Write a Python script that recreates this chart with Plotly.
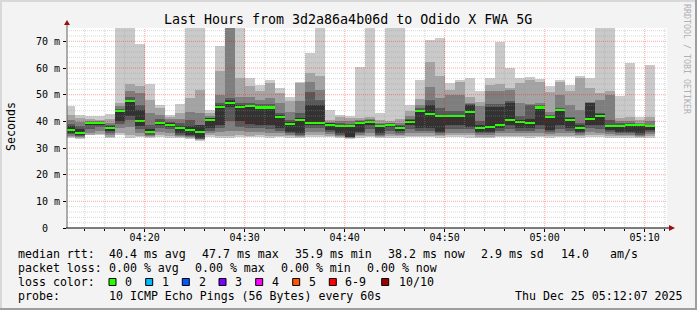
import plotly.graph_objects as go

DAY = "2025-12-25 "
minutes = ["04:12", "04:13", "04:14", "04:15", "04:16", "04:17", "04:18", "04:19", "04:20", "04:21",
           "04:22", "04:23", "04:24", "04:25", "04:26", "04:27", "04:28", "04:29", "04:30", "04:31",
           "04:32", "04:33", "04:34", "04:35", "04:36", "04:37", "04:38", "04:39", "04:40", "04:41",
           "04:42", "04:43", "04:44", "04:45", "04:46", "04:47", "04:48", "04:49", "04:50", "04:51",
           "04:52", "04:53", "04:54", "04:55", "04:56", "04:57", "04:58", "04:59", "05:00", "05:01",
           "05:02", "05:03", "05:04", "05:05", "05:06", "05:07", "05:08", "05:09", "05:10"]

# sorted ping rtts (ms) per minute, p10 = slowest, p1 = fastest (values > 75 are clipped)
p10 = [45.9, 42.4, 42.0, 42.0, 42.7, 80, 80, 68.9, 53.9, 46.1, 42.4, 46.5, 80, 80, 44.2,
       68.1, 80, 80, 56.2, 53.6, 55.5, 52.4, 49.3, 54.9, 65.5, 80, 44.2, 42.4, 42.1, 60.2,
       80, 43.0, 80, 80, 46.1, 55.5, 70.6, 71.4, 54.3, 55.5, 56.2, 51.4, 56.4, 69.7, 59.9,
       56.2, 56.8, 55.9, 53.3, 55.5, 53.6, 57.0, 56.2, 80, 80, 49.6, 62.0, 41.7, 61.2]
p9 = [42.4, 41.4, 41.0, 40.5, 40.7, 46.8, 53.9, 53.3, 48.0, 44.9, 41.7, 43.2, 48.9, 51.8, 43.2,
      58.9, 80, 56.4, 53.3, 51.4, 54.3, 50.8, 47.6, 54.3, 58.0, 57.1, 40.5, 41.7, 41.1, 41.4,
      41.7, 40.5, 40.1, 40.9, 43.9, 48.4, 62.4, 57.1, 51.8, 54.9, 49.3, 47.4, 53.6, 53.9, 52.6,
      54.3, 55.5, 54.6, 51.1, 54.6, 51.4, 56.2, 52.6, 50.5, 51.4, 41.4, 41.7, 40.5, 41.7]
p8 = [40.5, 39.9, 40.2, 40.0, 39.5, 45.9, 51.4, 50.5, 43.0, 42.5, 40.8, 41.0, 43.6, 43.0, 42.0,
      50.0, 80, 49.3, 49.3, 48.0, 48.9, 46.8, 43.6, 47.6, 54.6, 51.8, 39.8, 40.0, 40.0, 40.5,
      41.0, 39.5, 39.5, 39.5, 42.0, 46.1, 53.0, 48.9, 49.9, 49.9, 46.8, 45.7, 51.4, 51.4, 51.8,
      46.8, 46.5, 46.8, 43.6, 49.9, 46.1, 44.2, 47.1, 48.0, 49.9, 40.0, 40.0, 39.5, 40.0]
p7 = [39.0, 38.2, 39.9, 39.8, 38.6, 44.8, 49.3, 46.0, 38.5, 41.0, 39.8, 39.2, 40.5, 38.8, 41.4,
      47.0, 48.6, 46.8, 47.0, 46.5, 46.5, 43.0, 40.5, 43.0, 51.1, 48.0, 39.4, 39.2, 39.0, 40.0,
      40.5, 39.0, 39.2, 38.8, 41.0, 45.0, 48.0, 45.0, 44.0, 44.0, 46.5, 40.0, 46.5, 46.5, 47.5,
      42.0, 46.1, 46.1, 42.5, 45.0, 41.5, 39.5, 46.9, 43.0, 40.5, 39.2, 39.2, 39.0, 38.8]
p6 = [38.2, 37.0, 39.6, 39.6, 38.2, 43.9, 48.0, 44.2, 37.0, 39.8, 39.2, 38.2, 38.2, 38.6, 41.1,
      46.1, 48.0, 46.1, 46.3, 45.8, 45.8, 42.2, 39.8, 41.1, 46.1, 46.1, 39.2, 38.8, 38.8, 39.8,
      40.2, 38.8, 39.0, 38.4, 40.6, 44.2, 46.1, 42.5, 42.5, 42.5, 46.1, 38.6, 45.5, 45.5, 46.8,
      40.5, 41.0, 45.8, 42.1, 44.6, 41.1, 38.6, 46.8, 42.6, 38.8, 38.8, 38.9, 38.8, 38.6]
p5 = [35.8, 34.8, 38.9, 38.9, 36.5, 40.2, 42.0, 38.2, 35.5, 38.6, 38.0, 35.5, 34.8, 33.6, 37.4,
      38.6, 45.5, 40.0, 39.0, 38.6, 38.6, 37.4, 36.1, 35.5, 38.6, 38.6, 36.7, 35.5, 34.2, 36.1,
      38.6, 35.5, 38.0, 36.4, 38.6, 37.4, 37.4, 36.1, 38.6, 38.6, 38.0, 36.1, 36.1, 37.4, 38.6,
      37.4, 37.4, 38.6, 36.7, 38.6, 37.4, 36.1, 38.6, 38.6, 36.7, 36.1, 36.1, 35.5, 36.7]
p4 = [35.2, 34.4, 37.2, 37.8, 35.8, 39.0, 40.5, 37.0, 35.0, 37.5, 37.0, 35.0, 34.4, 33.4, 36.5,
      37.5, 40.0, 38.0, 37.6, 37.5, 37.2, 36.5, 35.6, 35.0, 37.5, 37.5, 36.0, 35.0, 34.0, 35.5,
      37.0, 35.0, 36.5, 35.8, 37.0, 36.5, 36.5, 35.5, 37.0, 37.0, 37.0, 35.5, 35.5, 36.5, 37.2,
      36.5, 36.5, 37.2, 36.0, 37.0, 36.5, 35.5, 37.5, 37.2, 36.0, 35.5, 35.5, 35.0, 36.0]
p3 = [34.6, 34.0, 35.8, 36.5, 35.0, 37.5, 38.0, 35.5, 34.6, 36.0, 35.8, 34.6, 34.0, 33.2, 35.6,
      36.0, 36.5, 36.5, 36.0, 36.0, 35.8, 35.5, 35.0, 34.6, 36.0, 36.0, 35.2, 34.6, 33.8, 35.0,
      35.5, 34.6, 35.2, 35.0, 35.5, 35.5, 35.5, 35.0, 35.8, 35.8, 35.8, 34.8, 34.8, 35.5, 35.8,
      35.5, 35.5, 35.8, 35.2, 35.5, 35.5, 35.0, 36.0, 35.8, 35.2, 35.0, 35.0, 34.6, 35.2]
p2 = [34.0, 33.6, 35.0, 35.2, 34.2, 35.5, 35.0, 34.6, 34.0, 35.0, 34.5, 34.0, 33.6, 33.0, 34.8,
      34.5, 34.5, 34.8, 34.6, 34.8, 34.6, 34.6, 34.4, 34.2, 34.8, 34.8, 34.5, 34.2, 33.6, 34.4,
      34.6, 34.0, 34.5, 34.4, 34.6, 34.6, 34.6, 34.4, 34.8, 34.8, 34.8, 34.2, 34.2, 34.6, 34.6,
      34.6, 34.6, 34.6, 34.4, 34.6, 34.6, 34.4, 34.8, 34.8, 34.4, 34.4, 34.4, 34.2, 34.5]
p1 = [33.6, 33.3, 34.8, 34.8, 33.6, 34.8, 33.8, 34.2, 33.6, 34.2, 33.6, 33.6, 33.3, 32.8, 34.2,
      33.6, 33.6, 34.0, 34.0, 34.2, 33.8, 34.0, 33.8, 33.8, 34.2, 34.2, 34.0, 33.8, 33.3, 33.8,
      34.0, 33.6, 33.8, 33.8, 34.0, 34.0, 34.0, 33.8, 34.2, 34.2, 33.8, 33.6, 33.8, 34.0, 34.0,
      34.0, 33.8, 34.0, 33.8, 34.2, 34.0, 33.8, 34.2, 34.2, 33.8, 33.8, 33.8, 33.8, 33.8]
median = [36.9, 35.7, 39.4, 39.4, 37.6, 43.9, 47.6, 40.1, 36.1, 39.4, 38.7, 37.6, 36.9, 35.9, 40.5,
          45.5, 47.0, 45.5, 45.9, 45.2, 45.2, 41.7, 39.0, 40.5, 39.4, 39.4, 38.7, 38.4, 38.4, 39.4,
          39.9, 38.4, 38.7, 37.6, 39.9, 44.0, 42.7, 42.1, 42.1, 42.1, 43.6, 37.6, 38.0, 38.7, 40.6,
          39.9, 39.5, 45.2, 41.7, 44.2, 40.5, 37.6, 40.9, 42.1, 38.4, 38.4, 38.6, 38.6, 38.2]

major_ticks = ["04:20", "04:30", "04:40", "04:50", "05:00", "05:10"]
y_tick_vals = [0, 10, 20, 30, 40, 50, 60, 70]
y_tick_text = ["0\u00a0\u00a0", "10 m", "20 m", "30 m", "40 m", "50 m", "60 m", "70 m"]

loss_labels = ["0", "1", "2", "3", "4", "5", "6-9", "10/10"]
loss_colors = ["#26ff00", "#00b8ff", "#0059ff", "#7e00ff", "#ff00ff", "#ff5500", "#ff0000", "#a10000"]

title = "Last Hours from 3d2a86a4b06d to Odido X FWA 5G"
row1 = [("median rtt:", 16), ("40.4 ms avg", 107.3), ("47.7 ms max", 200), ("35.9 ms min", 293.3),
        ("38.2 ms now", 386), ("2.9 ms sd", 479.3), ("14.0", 558.7), ("am/s", 607.7)]
row2 = [("packet loss:", 16), ("0.00 % avg", 107.3), ("0.00 % max", 193.3), ("0.00 % min", 279.3),
        ("0.00 % now", 365.3)]
row4 = [("probe:", 16), ("10 ICMP Echo Pings (56 Bytes) every 60s", 107.3), ("Thu Dec 25 05:12:07 2025", 513.3)]

# ---------------- layout geometry ----------------
W, H = 697, 310
PL, PT, PW, PH = 67, 28, 600, 200
MONO = "DejaVu Sans Mono"


def px(x):
    return (x - PL) / PW


def py(y):
    return (PT + PH - y) / PH


xs = [DAY + m + ":00" for m in minutes]

fig = go.Figure()
layers = [(p1, p10, "#cacaca"), (p2, p9, "#a4a4a4"), (p3, p8, "#7e7e7e"),
          (p4, p7, "#585858"), (p5, p6, "#323232")]
for lo, hi, col in layers:
    fig.add_trace(go.Bar(x=xs, base=lo, y=[h - l for h, l in zip(hi, lo)],
                         width=60000, offset=0,
                         marker=dict(color=col, line=dict(width=0)),
                         hoverinfo="skip", showlegend=False))
fig.add_trace(go.Bar(x=xs, base=[m - 0.4 for m in median], y=[0.8] * len(median),
                     width=60000, offset=0,
                     marker=dict(color=loss_colors[0], line=dict(width=0)),
                     hoverinfo="skip", showlegend=False))

MINOR = "rgba(150,150,150,0.38)"
MAJOR = "rgba(255,0,0,0.35)"
shapes = []
# horizontal grid
for v in range(2, 76, 2):
    major = v % 10 == 0
    shapes.append(dict(type="line", xref="paper", yref="y", x0=0, x1=1, y0=v, y1=v, layer="above",
                       line=dict(color=MAJOR if major else MINOR, width=1, dash="1px,1px")))
# vertical grid
for hh in (4, 5):
    for mm in range(0, 60, 2):
        t = hh * 60 + mm
        if t < 4 * 60 + 14 or t > 5 * 60 + 12:
            continue
        major = mm % 10 == 0
        ts = f"{DAY}{hh:02d}:{mm:02d}:00"
        shapes.append(dict(type="line", xref="x", yref="paper", x0=ts, x1=ts, y0=0, y1=1, layer="above",
                           line=dict(color=MAJOR if major else MINOR, width=1, dash="1px,1px")))
# axes lines
shapes.append(dict(type="line", xref="paper", yref="paper", x0=px(67), x1=px(67), y0=py(228), y1=py(23),
                   line=dict(color="#606060", width=1), layer="above"))
shapes.append(dict(type="line", xref="paper", yref="paper", x0=px(66), x1=px(670), y0=py(228), y1=py(228),
                   line=dict(color="#000000", width=1), layer="above"))
# arrows
shapes.append(dict(type="path", xref="paper", yref="paper", layer="above",
                   path=f"M {px(64)},{py(25)} L {px(70)},{py(25)} L {px(67)},{py(20)} Z",
                   fillcolor="#9a1010", line=dict(width=0)))
shapes.append(dict(type="path", xref="paper", yref="paper", layer="above",
                   path=f"M {px(669)},{py(225)} L {px(669)},{py(231)} L {px(675)},{py(228)} Z",
                   fillcolor="#9a1010", line=dict(width=0)))
# frame shading
shapes.append(dict(type="rect", xref="paper", yref="paper", x0=px(0), x1=px(W), y0=py(0), y1=py(2),
                   fillcolor="#d8d8d8", line=dict(width=0), layer="below"))
shapes.append(dict(type="rect", xref="paper", yref="paper", x0=px(0), x1=px(2), y0=py(0), y1=py(H),
                   fillcolor="#d8d8d8", line=dict(width=0), layer="below"))
shapes.append(dict(type="rect", xref="paper", yref="paper", x0=px(0), x1=px(W), y0=py(H - 2), y1=py(H),
                   fillcolor="#9e9e9e", line=dict(width=0), layer="below"))
shapes.append(dict(type="rect", xref="paper", yref="paper", x0=px(W - 2), x1=px(W), y0=py(0), y1=py(H),
                   fillcolor="#9e9e9e", line=dict(width=0), layer="below"))

annotations = []


def text(s, x, y, size=11.6, anchor="left", color="#000000", angle=0):
    annotations.append(dict(text=s, x=px(x), y=py(y), xref="paper", yref="paper",
                            xanchor=anchor, yanchor="middle", showarrow=False, textangle=angle,
                            font=dict(family=MONO, size=size, color=color)))


text(title, 348, 19, size=13.3, anchor="center")
text("Seconds", 11, 127, anchor="center", angle=-90)
text("RRDTOOL / TOBI OETIKER", 687, 59, size=8.3, anchor="center", color="#b0b0b0", angle=90)
for s, x in row1:
    text(s, x, 254)
for s, x in row2:
    text(s, x, 268)
text("loss color:", 16, 282)
sq_x = [109, 145.7, 182.3, 219, 255.7, 292.7, 329.3, 381.7]
lab_x = [123.3, 160, 196.7, 233.3, 270, 306.7, 343.3, 396.7]
for lab, col, sx, lx in zip(loss_labels, loss_colors, sq_x, lab_x):
    shapes.append(dict(type="rect", xref="paper", yref="paper", x0=px(sx), x1=px(sx + 7),
                       y0=py(278.5), y1=py(285.5), fillcolor=col, line=dict(color="#000000", width=1)))
    text(lab, lx, 282)
for s, x in row4:
    text(s, x, 296)

fig.update_layout(
    width=W, height=H, autosize=False,
    margin=dict(l=PL, r=W - PL - PW, t=PT, b=H - PT - PH, pad=0),
    paper_bgcolor="#f3f3f3", plot_bgcolor="#ffffff",
    barmode="overlay", bargap=0, showlegend=False,
    shapes=shapes, annotations=annotations,
    xaxis=dict(type="date", range=[DAY + "04:12:14", DAY + "05:12:14"],
               showgrid=False, zeroline=False, showline=False,
               tickvals=[DAY + t + ":00" for t in major_ticks], ticktext=major_ticks,
               ticks="outside", ticklen=3, tickcolor="#000000", ticklabelstandoff=-3,
               tickfont=dict(family=MONO, size=10, color="#000000"),
               minor=dict(dtick=120000, tick0=DAY + "04:00:00", ticks="outside", ticklen=2,
                          tickcolor="#000000", showgrid=False)),
    yaxis=dict(range=[0, 75], showgrid=False, zeroline=False, showline=False,
               tickvals=y_tick_vals, ticktext=y_tick_text,
               ticks="outside", ticklen=3, tickcolor="#000000", ticklabelstandoff=1,
               tickfont=dict(family=MONO, size=10, color="#000000")),
)

fig.write_html("out.html")
